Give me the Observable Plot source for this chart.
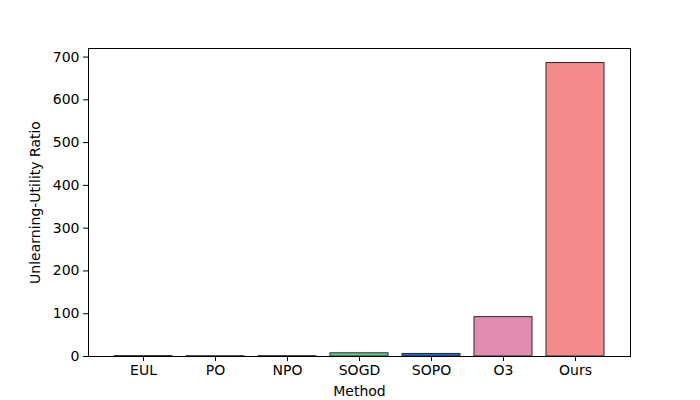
<!DOCTYPE html>
<html><head><meta charset="utf-8">
<script src="https://cdn.jsdelivr.net/npm/d3@7"></script>
<script src="https://cdn.jsdelivr.net/npm/@observablehq/plot@0.6"></script>
<style>
body{margin:0;background:#fff;}
svg{font-family:"DejaVu Sans",sans-serif;}
</style></head>
<body><div id="chart"></div>
<script>
const methods = ["EUL","PO","NPO","SOGD","SOPO","O3","Ours"];
const ratios = [0.8, 0.6, 0.7, 7.5, 6.0, 92, 686];
const colors = ["#4a4a4a","#5a5a4a","#4a4a5a","#5ccf91","#1a6fd1","#e28ab2","#f48a8a"];
const yTicks = [0,100,200,300,400,500,600,700];

const data = methods.map((m,i)=>({method:m, value:ratios[i], color:colors[i]}));

const chart = Plot.plot({
  width:700, height:400,
  marginLeft:88, marginRight:70, marginTop:48, marginBottom:44,
  style:{fontSize:"14px", fontFamily:"DejaVu Sans, sans-serif", color:"#000", background:"#fff"},
  x:{domain:methods, paddingInner:0.2, paddingOuter:0.34},
  y:{domain:[0,720]},
  marks:[
    Plot.barY(data,{x:"method", y:"value", fill:"color", stroke:"#2a2a2a", strokeWidth:1}),
    Plot.frame({stroke:"#000", strokeWidth:1}),
    Plot.axisX({tickSize:5, tickPadding:4, label:"Method", labelAnchor:"center", labelArrow:"none", labelOffset:39}),
    Plot.axisY({ticks:yTicks, tickSize:5, tickPadding:4, label:"Unlearning-Utility Ratio", labelAnchor:"center", labelArrow:"none", labelOffset:58})
  ]
});
document.getElementById("chart").appendChild(chart);
</script></body></html>
